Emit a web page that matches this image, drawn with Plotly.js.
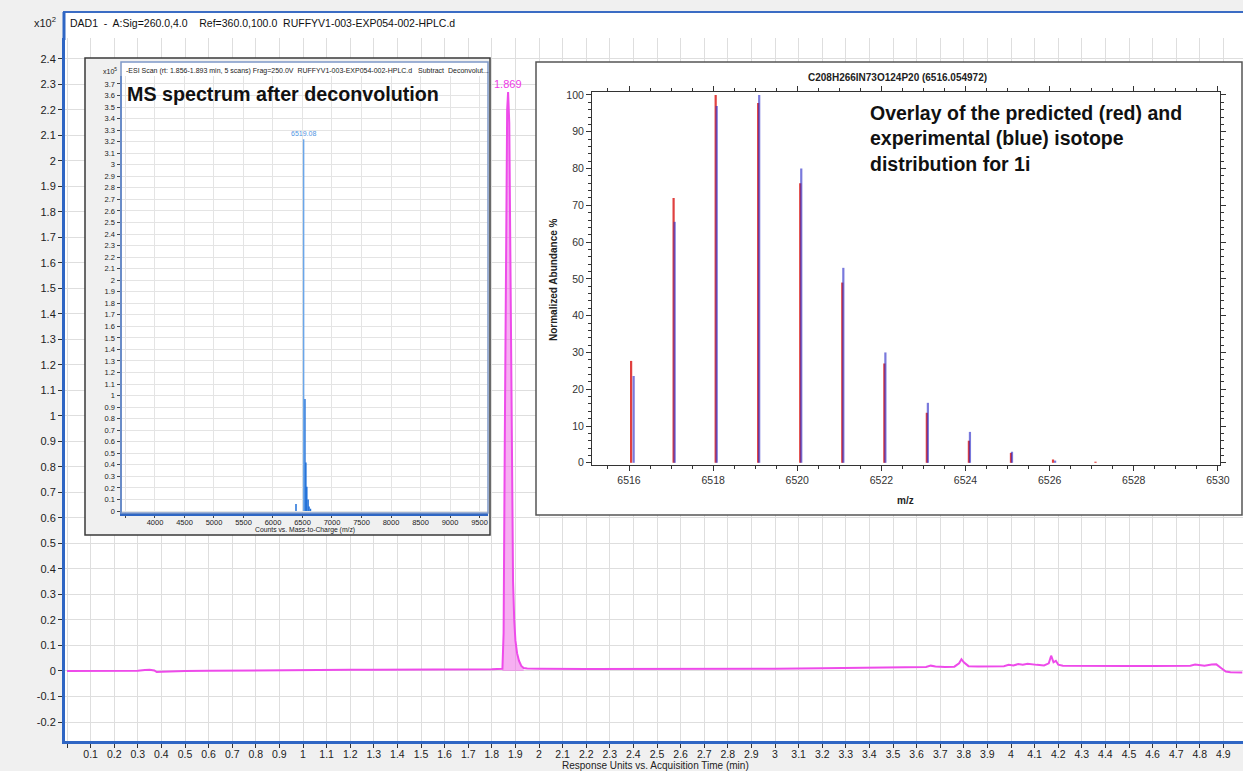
<!DOCTYPE html>
<html>
<head>
<meta charset="utf-8">
<script src="https://cdn.plot.ly/plotly-3.0.1.min.js"></script>
<style>
html,body{margin:0;padding:0;background:#f0f0f0;}
#chart{width:1243px;height:771px;}
</style>
</head>
<body>
<div id="chart"></div>
<script>
// ---------- Main chromatogram (DAD1, 260 nm), signal in x10^2 ----------
const timeMin = [0, 0.05, 0.1, 0.15, 0.2, 0.25, 0.3, 0.33, 0.35, 0.37, 0.38, 0.4, 0.45, 0.5, 0.6, 0.7, 0.8, 0.9, 1.0, 1.1, 1.2, 1.3, 1.4, 1.5, 1.6, 1.7, 1.8,
  1.845, 1.85, 1.855, 1.86, 1.865, 1.869, 1.874, 1.878, 1.882, 1.886, 1.89, 1.895, 1.9, 1.907, 1.915, 1.925, 1.935,
  1.95, 2.0, 2.2, 2.4, 2.6, 2.8, 3.0, 3.2, 3.4, 3.5, 3.6, 3.64, 3.66, 3.68, 3.72, 3.76, 3.78, 3.79, 3.8, 3.82, 3.86, 3.9,
  3.97, 3.99, 4.01, 4.03, 4.05, 4.07, 4.09, 4.11, 4.14, 4.16, 4.17, 4.18, 4.19, 4.2, 4.22, 4.3, 4.4, 4.5, 4.6, 4.7,
  4.76, 4.78, 4.8, 4.82, 4.85, 4.87, 4.89, 4.91, 4.93, 4.96, 4.98];
const signal = [0.000, 0.000, 0.000, 0.000, -0.001, 0.000, 0.001, 0.004, 0.005, 0.002, -0.004, -0.003, -0.001, 0.000, 0.001, 0.002, 0.003, 0.003, 0.004, 0.005, 0.005, 0.005, 0.005, 0.006, 0.006, 0.007, 0.007,
  0.009, 0.15, 0.9, 1.8, 2.2, 2.27, 2.15, 1.7, 1.1, 0.6, 0.35, 0.2, 0.12, 0.07, 0.04, 0.02, 0.012,
  0.010, 0.009, 0.008, 0.008, 0.008, 0.008, 0.009, 0.011, 0.013, 0.014, 0.015, 0.016, 0.021, 0.018, 0.016, 0.017, 0.030, 0.046, 0.034, 0.019, 0.018, 0.018,
  0.019, 0.024, 0.022, 0.027, 0.025, 0.028, 0.025, 0.024, 0.022, 0.030, 0.060, 0.034, 0.040, 0.025, 0.021, 0.020, 0.020, 0.020, 0.020, 0.020,
  0.021, 0.025, 0.022, 0.021, 0.025, 0.026, 0.012, -0.002, -0.005, -0.006, -0.006];
const peakLabel = "1.869";
const peakStart = 1.845, peakEnd = 1.935;
const mainXTickLabels = ["", "0.1","0.2","0.3","0.4","0.5","0.6","0.7","0.8","0.9","1","1.1","1.2","1.3","1.4","1.5","1.6","1.7","1.8","1.9","2",
  "2.1","2.2","2.3","2.4","2.5","2.6","2.7","2.8","2.9","3","3.1","3.2","3.3","3.4","3.5","3.6","3.7","3.8","3.9","4",
  "4.1","4.2","4.3","4.4","4.5","4.6","4.7","4.8","4.9"];
const mainYTickLabels = ["-0.2","-0.1","0","0.1","0.2","0.3","0.4","0.5","0.6","0.7","0.8","0.9","1","1.1","1.2","1.3","1.4","1.5","1.6","1.7","1.8","1.9","2","2.1","2.2","2.3","2.4"];

// ---------- Inset 1: deconvoluted MS spectrum (x10^5 counts) ----------
const msMainMass = [6519.08];
const msMainCounts = [3.22];
const msMass = [6390, 6541, 6557, 6573, 6595, 6611, 6635];
const msCounts = [0.06, 0.97, 0.42, 0.21, 0.10, 0.04, 0.02];
const msXTickLabels = ["", "4000","4500","5000","5500","6000","6500","7000","7500","8000","8500","9000","9500"];
const msYTickLabels = ["0","0.1","0.2","0.3","0.4","0.5","0.6","0.7","0.8","0.9","1","1.1","1.2","1.3","1.4","1.5","1.6","1.7","1.8","1.9","2",
  "2.1","2.2","2.3","2.4","2.5","2.6","2.7","2.8","2.9","3","3.1","3.2","3.3","3.4","3.5","3.6","3.7"];

// ---------- Inset 2: isotope distribution (normalized abundance %) ----------
const predMz = [6516.05, 6517.06, 6518.06, 6519.07, 6520.07, 6521.07, 6522.07, 6523.08, 6524.08, 6525.08, 6526.08, 6527.09];
const predAbund = [27.7, 72, 100, 97.8, 76, 49, 27, 13.6, 6, 2.7, 0.9, 0.3];
const expMz = [6516.11, 6517.085, 6518.085, 6519.095, 6520.095, 6521.095, 6522.095, 6523.105, 6524.105, 6525.105, 6526.13];
const expAbund = [23.6, 65.5, 97, 100, 80, 53, 30, 16.3, 8.4, 3, 0.6];

// ---------- helpers ----------
const W = 1243, H = 771;
const px = x => x / W;
const py = y => 1 - y / H;
function stems(xs, ys) {
  const X = [], Y = [];
  xs.forEach((x, i) => { X.push(x, x, null); Y.push(0, ys[i], null); });
  return {X, Y};
}
const FONT = "Liberation Sans, Arial, sans-serif";

const mainXTickVals = mainXTickLabels.map((t, i) => i / 10);
const mainYTickVals = mainYTickLabels.map(t => parseFloat(t));
const msXTickVals = msXTickLabels.map((t, i) => 3500 + 500 * i);
const msYTickVals = msYTickLabels.map(t => parseFloat(t));

const fillX = [], fillY = [];
timeMin.forEach((t, i) => { if (t >= peakStart && t <= peakEnd) { fillX.push(t); fillY.push(signal[i]); } });
const peakIdx = signal.indexOf(Math.max(...signal));

const msMain = stems(msMainMass, msMainCounts);
const msRest = stems(msMass, msCounts);
const pred = stems(predMz, predAbund);
const expt = stems(expMz, expAbund);

const traces = [
  {type:'scatter', mode:'lines', x: fillX, y: fillY, fill:'tozeroy', fillcolor:'rgba(240,110,232,0.55)',
   line:{width:0}, xaxis:'x', yaxis:'y', hoverinfo:'skip'},
  {type:'scatter', mode:'lines', x: timeMin, y: signal, line:{color:'#ee4bea', width:2}, xaxis:'x', yaxis:'y'},
  {type:'scatter', mode:'lines', x: [], y: [], xaxis:'x2', yaxis:'y2', hoverinfo:'skip'},
  {type:'scatter', mode:'lines', x: msRest.X, y: msRest.Y, line:{color:'#1f6fd8', width:1.5}, xaxis:'x3', yaxis:'y3'},
  {type:'scatter', mode:'lines', x: msMain.X, y: msMain.Y, line:{color:'#6aa6ea', width:1.5}, xaxis:'x3', yaxis:'y3'},
  {type:'scatter', mode:'lines', x: [], y: [], xaxis:'x4', yaxis:'y4', hoverinfo:'skip'},
  {type:'scatter', mode:'lines', x: pred.X, y: pred.Y, line:{color:'#e0403f', width:2.2}, xaxis:'x5', yaxis:'y5'},
  {type:'scatter', mode:'lines', x: expt.X, y: expt.Y, line:{color:'#2828c8', width:2.2}, opacity:0.62, xaxis:'x5', yaxis:'y5'}
];

const hidden = {visible:false, range:[0,1], fixedrange:true, showgrid:false, zeroline:false};

const layout = {
  width: W, height: H,
  margin:{l:0, r:0, t:0, b:0, pad:0},
  paper_bgcolor:'#f0f0f0', plot_bgcolor:'#ffffff',
  showlegend:false, hovermode:false,
  font:{family:FONT, color:'#222'},
  xaxis:{domain:[px(65), 1], range:[-0.0085, 4.983], anchor:'y',
    tickmode:'array', tickvals: mainXTickVals, ticktext: mainXTickLabels,
    showgrid:true, gridcolor:'#dedede', gridwidth:1, zeroline:false,
    ticks:'outside', ticklen:4, ticklabelstandoff:-3, tickcolor:'#333', showline:true, linecolor:'#2f66c4', linewidth:3,
    tickfont:{size:10.5, color:'#222', family:FONT}},
  yaxis:{domain:[py(741), py(38)], range:[-0.2745, 2.482], anchor:'x',
    tickmode:'array', tickvals: mainYTickVals, ticktext: mainYTickLabels,
    showgrid:true, gridcolor:'#dedede', gridwidth:1, zeroline:false,
    ticks:'outside', ticklen:4, tickcolor:'#333', showline:true, linecolor:'#2f66c4', linewidth:3,
    tickfont:{size:11, color:'#222', family:FONT}},
  xaxis2: Object.assign({domain:[px(85), px(490)], anchor:'y2'}, hidden),
  yaxis2: Object.assign({domain:[py(535), py(58)], anchor:'x2'}, hidden),
  xaxis3:{domain:[px(122), px(488)], range:[3441, 9644], anchor:'y3',
    tickmode:'array', tickvals: msXTickVals, ticktext: msXTickLabels,
    showgrid:true, gridcolor:'#e4e4e4', zeroline:false,
    ticks:'outside', ticklen:2, ticklabelstandoff:-2, tickcolor:'#444', showline:true, linecolor:'#2f66c4', linewidth:2.5,
    tickfont:{size:7.5, color:'#222', family:FONT}},
  yaxis3:{domain:[py(513), py(76)], range:[-0.017, 3.769], anchor:'x3',
    tickmode:'array', tickvals: msYTickVals, ticktext: msYTickLabels,
    showgrid:true, gridcolor:'#e4e4e4', zeroline:false,
    ticks:'outside', ticklen:3, tickcolor:'#444', showline:true, linecolor:'#2f66c4', linewidth:2.5,
    tickfont:{size:7.5, color:'#222', family:FONT}},
  xaxis4: Object.assign({domain:[px(536), 1], anchor:'y4'}, hidden),
  yaxis4: Object.assign({domain:[py(515), py(62)], anchor:'x4'}, hidden),
  xaxis5:{domain:[px(592), px(1220)], range:[6515.12, 6530.05], anchor:'y5',
    tick0:6516, dtick:2, tickformat:'d', showgrid:false, zeroline:false,
    ticks:'outside', ticklen:5, tickcolor:'#333', showline:true, linecolor:'#333', linewidth:1, mirror:'allticks',
    minor:{dtick:0.5, ticks:'outside', ticklen:3, tickcolor:'#333', showgrid:false},
    tickfont:{size:10.5, color:'#333', family:FONT}},
  yaxis5:{domain:[py(465), py(92)], range:[-0.6, 100.8], anchor:'x5',
    tick0:0, dtick:10, showgrid:false, zeroline:false,
    ticks:'outside', ticklen:5, tickcolor:'#333', showline:true, linecolor:'#333', linewidth:1, mirror:'allticks',
    minor:{dtick:2, ticks:'outside', ticklen:3, tickcolor:'#333', showgrid:false},
    tickfont:{size:10.5, color:'#333', family:FONT}},
  shapes:[
    {type:'rect', xref:'paper', yref:'paper', x0:px(63), x1:1, y0:py(38), y1:py(12), fillcolor:'#ffffff', line:{width:0}, layer:'below'},
    {type:'line', xref:'paper', yref:'paper', x0:px(63), x1:1, y0:py(12), y1:py(12), line:{color:'#3b6cc4', width:2}, layer:'above'},
    {type:'line', xref:'paper', yref:'paper', x0:px(64), x1:px(64), y0:py(12), y1:py(40), line:{color:'#2f66c4', width:3}, layer:'above'},
    {type:'rect', xref:'x2', yref:'y2', x0:0, x1:1, y0:0, y1:1, fillcolor:'#f0f0f0', line:{width:0}, layer:'below'},
    {type:'rect', xref:'paper', yref:'paper', x0:px(122), x1:px(488), y0:py(76), y1:py(62), fillcolor:'#ffffff', line:{width:0}, layer:'above'},
    {type:'rect', xref:'paper', yref:'paper', x0:px(121), x1:px(488), y0:py(513), y1:py(62), line:{color:'#7d98c8', width:1.5}, layer:'above'},
    {type:'rect', xref:'paper', yref:'paper', x0:px(85), x1:px(490), y0:py(535), y1:py(58), line:{color:'#3a3a3a', width:1.5}, layer:'above'},
    {type:'rect', xref:'paper', yref:'paper', x0:px(536), x1:px(1242), y0:py(515), y1:py(62), line:{color:'#555555', width:1.5}, layer:'above'}
  ],
  annotations:[
    {xref:'paper', yref:'paper', x:px(58), y:py(22), xanchor:'right', yanchor:'middle', showarrow:false,
     text:'x10<sup>2</sup>', font:{size:11, color:'#222', family:FONT}},
    {xref:'paper', yref:'paper', x:px(68), y:py(23), xanchor:'left', yanchor:'middle', showarrow:false,
     text:'DAD1  -  A:Sig=260.0,4.0    Ref=360.0,100.0  RUFFYV1-003-EXP054-002-HPLC.d', font:{size:10.5, color:'#111', family:FONT}},
    {xref:'x', yref:'y', x: timeMin[peakIdx], y: signal[peakIdx], xanchor:'center', yanchor:'bottom', showarrow:false,
     text: peakLabel, font:{size:11, color:'#ee3be6', family:FONT}},
    {xref:'paper', yref:'paper', x:px(655), y:py(765), xanchor:'center', yanchor:'middle', showarrow:false,
     text:'Response Units vs. Acquisition Time (min)', font:{size:10, color:'#222', family:FONT}},
    // inset 1
    {xref:'paper', yref:'paper', x:px(119), y:py(71), xanchor:'right', yanchor:'middle', showarrow:false,
     text:'x10<sup>5</sup>', font:{size:7, color:'#222', family:FONT}},
    {xref:'paper', yref:'paper', x:px(124), y:py(71), xanchor:'left', yanchor:'middle', showarrow:false,
     text:'-ESI Scan (rt: 1.856-1.893 min, 5 scans) Frag=250.0V  RUFFYV1-003-EXP054-002-HPLC.d   Subtract  Deconvolut...',
     font:{size:7, color:'#222', family:FONT}},
    {xref:'paper', yref:'paper', x:px(125), y:py(94), xanchor:'left', yanchor:'middle', showarrow:false,
     text:'<b>MS spectrum after deconvolution</b>', font:{size:19.7, color:'#111', family:FONT}},
    {xref:'x3', yref:'y3', x: msMainMass[0], y: msMainCounts[0], xanchor:'center', yanchor:'bottom', showarrow:false,
     text: msMainMass[0].toFixed(2), font:{size:7, color:'#4f94e2', family:FONT}},
    {xref:'paper', yref:'paper', x:px(305), y:py(530), xanchor:'center', yanchor:'middle', showarrow:false,
     text:'Counts vs. Mass-to-Charge (m/z)', font:{size:6.8, color:'#222', family:FONT}},
    // inset 2
    {xref:'paper', yref:'paper', x:px(897), y:py(78), xanchor:'center', yanchor:'middle', showarrow:false,
     text:'<b>C208H266IN73O124P20 (6516.054972)</b>', font:{size:10, color:'#222', family:FONT}},
    {xref:'paper', yref:'paper', x:px(553), y:py(280), xanchor:'center', yanchor:'middle', showarrow:false, textangle:-90,
     text:'<b>Normalized Abundance %</b>', font:{size:10, color:'#222', family:FONT}},
    {xref:'paper', yref:'paper', x:px(905), y:py(500), xanchor:'center', yanchor:'middle', showarrow:false,
     text:'<b>m/z</b>', font:{size:10, color:'#222', family:FONT}},
    {xref:'paper', yref:'paper', x:px(868), y:py(138), xanchor:'left', yanchor:'middle', align:'left', showarrow:false,
     text:'<b>Overlay of the predicted (red) and<br>experimental (blue) isotope<br>distribution for 1i</b>',
     font:{size:19.5, color:'#111', family:FONT}}
  ]
};

Plotly.newPlot('chart', traces, layout, {displayModeBar:false, staticPlot:true});
</script>
</body>
</html>
